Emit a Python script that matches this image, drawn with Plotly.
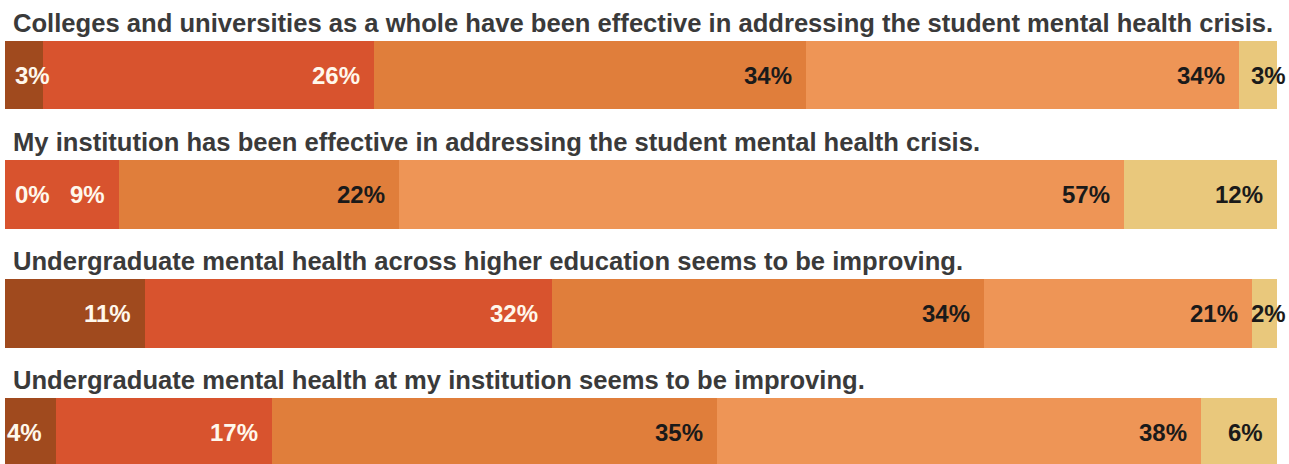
import plotly.graph_objects as go

statements = [
    "Colleges and universities as a whole have been effective in addressing the student mental health crisis.",
    "My institution has been effective in addressing the student mental health crisis.",
    "Undergraduate mental health across higher education seems to be improving.",
    "Undergraduate mental health at my institution seems to be improving.",
]
responses = ["Strongly disagree", "Disagree", "Neutral", "Agree", "Strongly agree"]
strongly_disagree = [3, 0, 11, 4]
disagree = [26, 9, 32, 17]
neutral = [34, 22, 34, 35]
agree = [34, 57, 21, 38]
strongly_agree = [3, 12, 2, 6]

series = [strongly_disagree, disagree, neutral, agree, strongly_agree]
colors = ["#A04A1E", "#D8532E", "#E07E3B", "#EE9556", "#E9C87C"]
label_colors = ["#FFF8EC", "#FFF8EC", "#1A1A1A", "#1A1A1A", "#1A1A1A"]

W, H = 1289, 464
ML, MR = 5, 12
px_per_unit = 119.3
bar_w = 0.578
first_center_px = 75
y_top = -first_center_px / px_per_unit
y_bot = (H - first_center_px) / px_per_unit

ypos = list(range(len(statements)))
FONT = "Liberation Sans, Arial, sans-serif"

fig = go.Figure()
for name, vals, col in zip(responses, series, colors):
    fig.add_trace(go.Bar(
        y=ypos, x=vals, name=name, orientation="h",
        marker=dict(color=col, line=dict(width=0)),
        width=bar_w, showlegend=False, hoverinfo="x+name",
    ))

annotations = []
for i, stmt in enumerate(statements):
    annotations.append(dict(
        x=0, xref="paper", y=i - bar_w / 2, yref="y",
        text=f"<b>{stmt}</b>", showarrow=False, xanchor="left", yanchor="bottom",
        xshift=6, yshift=2,
        font=dict(family=FONT, size=25.6, color="#3A3A3A"),
    ))
    cum = 0
    n = len(series)
    for k, vals in enumerate(series):
        v = vals[i]
        start = cum
        cum += v
        if v < 4 and k == n - 1:
            ann = dict(x=1, xref="paper", xanchor="right", xshift=11)
        elif v < 4:
            ann = dict(x=start, xref="x", xanchor="left", xshift=8)
        else:
            ann = dict(x=cum, xref="x", xanchor="right", xshift=-12)
        ann.update(dict(
            y=i, yref="y", text=f"<b>{v}%</b>", showarrow=False, yanchor="middle",
            font=dict(family=FONT, size=24, color=label_colors[k]),
        ))
        annotations.append(ann)

fig.update_layout(
    barmode="stack",
    width=W, height=H,
    margin=dict(l=ML, r=MR, t=0, b=0, pad=0, autoexpand=False),
    paper_bgcolor="white", plot_bgcolor="white",
    xaxis=dict(range=[0, 100], visible=False, fixedrange=True),
    yaxis=dict(range=[y_bot, y_top], visible=False, fixedrange=True),
    annotations=annotations,
    bargap=0,
)
fig.write_html("out.html", config={"displayModeBar": False},
               post_script="document.body.style.margin='0px';")
